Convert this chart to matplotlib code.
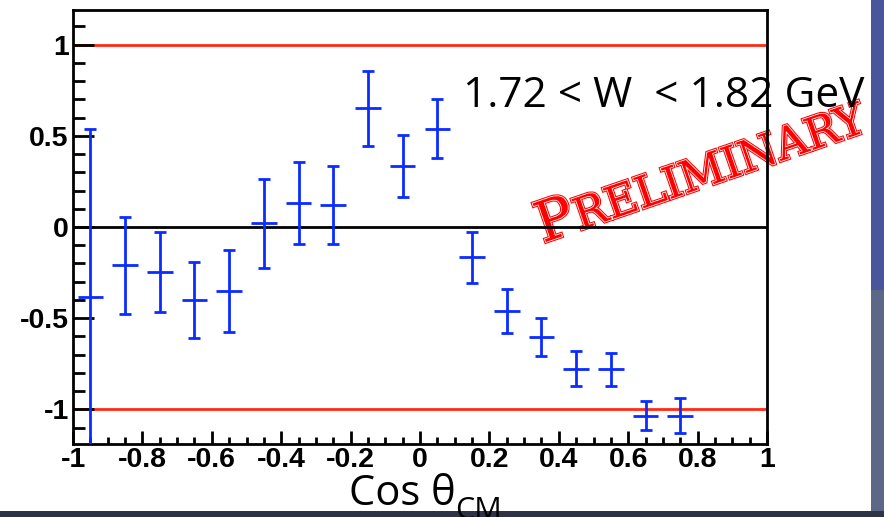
import math
import matplotlib
matplotlib.use('Agg')
import matplotlib.pyplot as plt
import matplotlib.patheffects as pe
from matplotlib.ticker import MultipleLocator
from matplotlib.textpath import TextPath
from matplotlib.patches import PathPatch, Rectangle
from matplotlib.font_manager import FontProperties
from matplotlib.transforms import Affine2D

# beam asymmetry vs cos(theta_CM), bin 1.72 < W < 1.82 GeV
cos_cm = [-0.95, -0.85, -0.75, -0.65, -0.55, -0.45, -0.35, -0.25, -0.15, -0.05,
          0.05, 0.15, 0.25, 0.35, 0.45, 0.55, 0.65, 0.75]
asym = [-0.385, -0.21, -0.245, -0.40, -0.35, 0.02, 0.133, 0.12, 0.65, 0.335,
        0.54, -0.165, -0.46, -0.603, -0.776, -0.78, -1.035, -1.035]
asym_err = [0.925, 0.265, 0.22, 0.21, 0.225, 0.245, 0.225, 0.212, 0.205, 0.17,
            0.162, 0.14, 0.12, 0.105, 0.097, 0.09, 0.08, 0.097]
bin_half = 0.037

xtick_vals = [-1, -0.8, -0.6, -0.4, -0.2, 0, 0.2, 0.4, 0.6, 0.8, 1]
xtick_labels = ['-1', '-0.8', '-0.6', '-0.4', '-0.2', '0', '0.2', '0.4', '0.6', '0.8', '1']
ytick_vals = [-1, -0.5, 0, 0.5, 1]
ytick_labels = ['-1', '-0.5', '0', '0.5', '1']

BLUE = '#0a2cff'
RED = '#ff2a14'
W, H = 884, 517

fig = plt.figure(figsize=(W / 100, H / 100), dpi=100)
fig.patch.set_facecolor('white')

# slide background peeking out at the right and bottom edges
fig.add_artist(Rectangle((871 / W, 0), 13 / W, 1, transform=fig.transFigure,
                         facecolor='#4a569c', edgecolor='none', zorder=-3))
fig.add_artist(Rectangle((871 / W, 0), 13 / W, 1 - 290 / H, transform=fig.transFigure,
                         facecolor='#5d6788', edgecolor='none', zorder=-2.9))
fig.add_artist(Rectangle((0, 0), 1, 6 / H, transform=fig.transFigure,
                         facecolor='#2e3348', edgecolor='none', zorder=-2.8))

ax = fig.add_axes([73 / W, 1 - 444 / H, (767 - 73) / W, (444 - 10) / H])
ax.set_facecolor('none')

ax.axhline(1, color=RED, lw=2, zorder=1)
ax.axhline(-1, color=RED, lw=2, zorder=1)
ax.axhline(0, color='black', lw=2, zorder=1)

ax.errorbar(cos_cm, asym, yerr=asym_err, fmt='none', ecolor=BLUE,
            elinewidth=2, capsize=4.3, capthick=2, zorder=3)
ax.errorbar(cos_cm, asym, xerr=bin_half, fmt='none', ecolor=BLUE,
            elinewidth=2, capsize=0, zorder=3)

ax.set_xlim(-1, 1)
ax.set_ylim(-1.19, 1.19)
ax.set_xticks(xtick_vals, labels=xtick_labels)
ax.set_yticks(ytick_vals, labels=ytick_labels)
ax.xaxis.set_minor_locator(MultipleLocator(0.05))
ax.yaxis.set_minor_locator(MultipleLocator(0.1))
ax.tick_params(which='both', direction='in', width=2, top=False, right=False)
ax.tick_params(axis='x', which='major', length=9.4, pad=2)
ax.tick_params(axis='x', which='minor', length=5)
ax.tick_params(axis='y', which='major', length=15, pad=3)
ax.tick_params(axis='y', which='minor', length=8.6)
for lab in ax.get_xticklabels() + ax.get_yticklabels():
    lab.set_fontfamily('Liberation Sans')
    lab.set_fontweight('bold')
    lab.set_fontsize(20.5)
for sp in ax.spines.values():
    sp.set_linewidth(2)

fig.text(463 / W, 1 - 107 / H, '1.72 < W  < 1.82 GeV', family='Open Sans',
         fontsize=30.5, va='baseline', ha='left', zorder=-1)
fig.text(349 / W, 1 - 505 / H, 'Cos θ', family='Open Sans',
         fontsize=30, va='baseline', ha='left')
fig.text(455 / W, 1 - 519 / H, 'CM', family='Open Sans',
         fontsize=22, va='baseline', ha='left')

# red "PRELIMINARY" stamp, drawn as glyph outlines
stamp_font = FontProperties(family='DejaVu Serif', weight='normal')


def stamp(text, size, x0, y0, angle, stretch=1.0):
    tp = TextPath((0, 0), text, size=size, prop=stamp_font)
    tr = Affine2D().scale(stretch, 1).rotate_deg(angle).translate(x0, H - y0)
    patch = PathPatch(tp, transform=tr, facecolor='#ff0000', edgecolor='none', zorder=-1)
    patch.set_path_effects([pe.Stroke(linewidth=2.6, foreground='#ff0000'),
                            pe.Stroke(linewidth=1.1, foreground='white'),
                            pe.Normal()])
    fig.add_artist(patch)
    return tp.get_extents().x1 * stretch


ang = 19
adv = stamp('P', 56, 543, 243, ang) + 3
stamp('RELIMINARY', 44, 543 + adv * math.cos(math.radians(ang)),
      243 - adv * math.sin(math.radians(ang)), ang)

fig.savefig('out.png', dpi=100)
